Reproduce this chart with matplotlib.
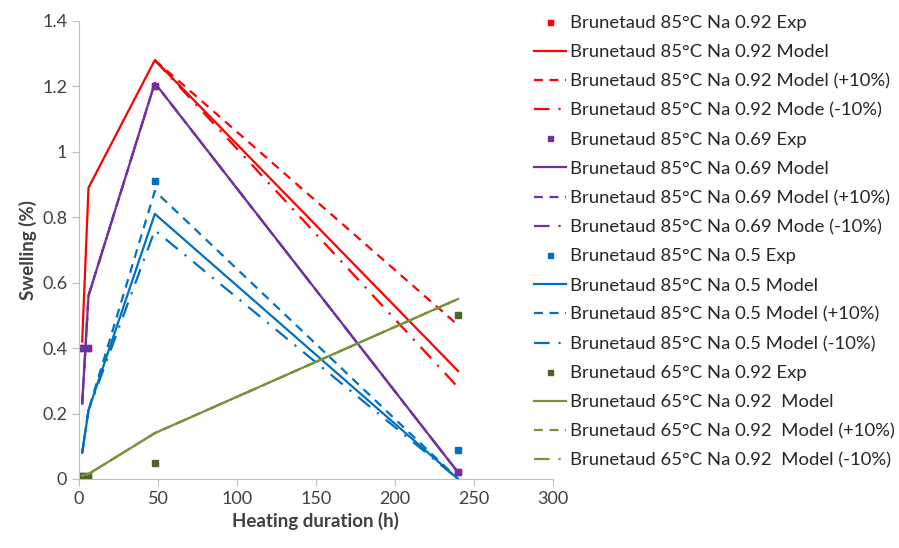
import matplotlib.pyplot as plt

plt.rcParams['font.family'] = ['Lato', 'DejaVu Sans']

# experimental points
t_exp = [2, 6, 48, 240]
red_exp = [0.40, 0.40, 1.20, 0.02]
purple_exp = [0.40, 0.40, 1.20, 0.02]
blue_exp = [0.01, 0.01, 0.91, 0.09]
green_exp = [0.01, 0.01, 0.05, 0.50]

# model curves
t_mod = [2, 6, 48, 240]
t_pk = [48, 240]
red_mod = [0.42, 0.89, 1.28, 0.33]
red_plus = [1.28, 0.47]
red_minus = [1.28, 0.28]
purple_mod = [0.23, 0.56, 1.21, 0.02]
purple_plus = [0.23, 0.56, 1.21, 0.02]
purple_minus = [0.23, 0.56, 1.21, 0.02]
blue_mod = [0.08, 0.21, 0.81, 0.0]
blue_plus = [0.08, 0.21, 0.88, 0.0]
blue_minus = [0.08, 0.21, 0.76, 0.0]
green_mod = [0.01, 0.015, 0.14, 0.55]
green_plus = [0.01, 0.015, 0.14, 0.55]
green_minus = [0.01, 0.015, 0.14, 0.55]

RED = '#FF0000'
PURPLE = '#7030A0'
BLUE = '#0070C0'
GREEN = '#77933C'
GREEN_D = '#4F6228'

dash = (0, (4, 3))
dashdot = (0, (7, 4, 1, 4))
lw = 1.6
ms = 4.5

fig = plt.figure(figsize=(8.99, 5.48), dpi=100)
ax = fig.add_axes([0.0879, 0.126, 0.527, 0.836])

ax.plot(t_exp, red_exp, 's', color=RED, ms=ms, ls='none', label='Brunetaud 85°C Na 0.92 Exp')
ax.plot(t_mod, red_mod, '-', color=RED, lw=lw, label='Brunetaud 85°C Na 0.92 Model')
ax.plot(t_pk, red_plus, color=RED, lw=lw, ls=dash, label='Brunetaud 85°C Na 0.92 Model (+10%)')
ax.plot(t_pk, red_minus, color=RED, lw=lw, ls=dashdot, label='Brunetaud 85°C Na 0.92 Mode (-10%)')

ax.plot(t_exp, purple_exp, 's', color=PURPLE, ms=ms, ls='none', label='Brunetaud 85°C Na 0.69 Exp')
ax.plot(t_mod, purple_mod, '-', color=PURPLE, lw=lw, label='Brunetaud 85°C Na 0.69 Model')
ax.plot(t_mod, purple_plus, color=PURPLE, lw=lw, ls=dash, label='Brunetaud 85°C Na 0.69 Model (+10%)')
ax.plot(t_mod, purple_minus, color=PURPLE, lw=lw, ls=dashdot, label='Brunetaud 85°C Na 0.69 Mode (-10%)')

ax.plot(t_exp, blue_exp, 's', color=BLUE, ms=ms, ls='none', label='Brunetaud 85°C Na 0.5 Exp')
ax.plot(t_mod, blue_mod, '-', color=BLUE, lw=lw, label='Brunetaud 85°C Na 0.5 Model')
ax.plot(t_mod, blue_plus, color=BLUE, lw=lw, ls=dash, label='Brunetaud 85°C Na 0.5 Model (+10%)')
ax.plot(t_mod, blue_minus, color=BLUE, lw=lw, ls=dashdot, label='Brunetaud 85°C Na 0.5 Model (-10%)')

ax.plot(t_exp, green_exp, 's', color=GREEN_D, ms=ms, ls='none', label='Brunetaud 65°C Na 0.92 Exp')
ax.plot(t_mod, green_mod, '-', color=GREEN, lw=lw, label='Brunetaud 65°C Na 0.92  Model')
ax.plot(t_mod, green_plus, color=GREEN, lw=lw, ls=dash, label='Brunetaud 65°C Na 0.92  Model (+10%)')
ax.plot(t_mod, green_minus, color=GREEN, lw=lw, ls=dashdot, label='Brunetaud 65°C Na 0.92  Model (-10%)')

ax.set_xlim(0, 300)
ax.set_ylim(0, 1.4)
ax.set_xticks(range(0, 301, 50))
ax.set_yticks([0, 0.2, 0.4, 0.6, 0.8, 1.0, 1.2, 1.4])
ax.set_yticklabels(['0', '0.2', '0.4', '0.6', '0.8', '1', '1.2', '1.4'])
for s in ['top', 'right']:
    ax.spines[s].set_visible(False)
for s in ['left', 'bottom']:
    ax.spines[s].set_color('#BFBFBF')
ax.tick_params(colors='#BFBFBF', labelcolor='#404040', labelsize=13, length=5)
ax.set_xlabel('Heating duration (h)', fontsize=13.5, fontweight='bold', color='#404040')
ax.set_ylabel('Swelling (%)', fontsize=13.5, fontweight='bold', color='#404040')

leg = fig.legend(loc='upper left', bbox_to_anchor=(0.575, 1.003), frameon=False,
                 fontsize=13.3, labelspacing=0.71, handlelength=1.75, handletextpad=0.25,
                 markerscale=0.8)
for t in leg.get_texts():
    t.set_color('#262626')

fig.savefig('out.png', dpi=100)
